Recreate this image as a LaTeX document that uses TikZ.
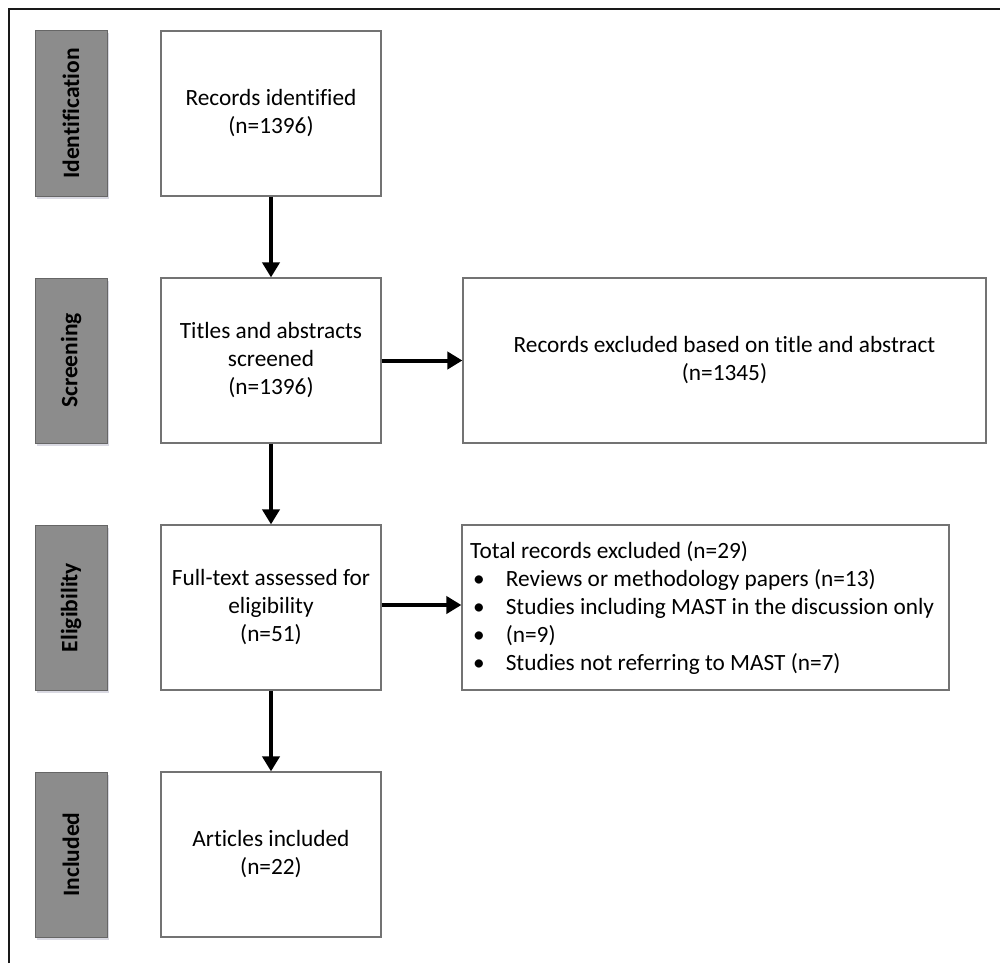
\documentclass[tikz,border=0pt]{standalone}
\usepackage{fontspec}
\setmainfont{Carlito}[Ligatures=NoCommon]
\usetikzlibrary{arrows.meta}
\begin{document}
\begin{tikzpicture}[x=1pt,y=-1pt,
  side/.style={draw=black!60,fill=black!45,line width=1pt,minimum width=72pt,minimum height=165pt,inner sep=0pt,
    font=\fontsize{23.5}{27}\selectfont\bfseries},
  stage/.style={draw=black!55,line width=1.2pt,minimum width=220pt,minimum height=165pt,inner sep=0pt,align=center,
    font=\fontsize{23.3}{28}\selectfont},
  flow/.style={line width=4pt,-{Triangle[width=17pt,length=15pt]}}]
\useasboundingbox (0,0) rectangle (1000,963);
\fill[white] (0,0) rectangle (1000,963);
\draw[line width=2.5pt,black!90] (9,963) -- (9,9) -- (1000,9);
% sidebars
\foreach \n/\t/\y in {sa/Identification/113.5, sb/Screening/360.5, sc/Eligibility/607.5, sd/Included/854.5}{
  \fill[blue!25!black!15] (37,\y-80) rectangle (109,\y+85);
  \node[side] (\n) at (71,\y) {\rotatebox{90}{\t}};
}
% main boxes
\node[stage] (b1) at (271,113.5) {Records identified\\(n=1396)};
\node[stage] (b2) at (271,360.5) {Titles and abstracts\\screened\\(n=1396)};
\node[stage] (b3) at (271,607.5) {Full-text assessed for\\eligibility\\(n=51)};
\node[stage] (b4) at (271,854.5) {Articles included\\(n=22)};
% right boxes
\node[stage,minimum width=523pt] (r1) at (724.5,360.5) {Records excluded based on title and abstract\\(n=1345)};
\node[stage,minimum width=487pt] (r2) at (705.5,607.5) {};
\node[anchor=west,align=left,inner sep=0pt,font=\fontsize{23.3}{28}\selectfont] (r2t) at (470,607.5)
  {Total records excluded (n=29)\\
   \hspace*{3pt}\textbullet\hspace{21pt}Reviews or methodology papers (n=13)\\
   \hspace*{3pt}\textbullet\hspace{21pt}Studies including MAST in the discussion only\\
   \hspace*{3pt}\textbullet\hspace{21pt}(n=9)\\
   \hspace*{3pt}\textbullet\hspace{21pt}Studies not referring to MAST (n=7)};
% arrows
\draw[flow] (b1) -- (b2);
\draw[flow] (b2) -- (b3);
\draw[flow] (b3) -- (b4);
\draw[flow] (b2) -- (r1);
\draw[flow] (b3.east |- 0,605) -- (r2.west |- 0,605);
\end{tikzpicture}
\end{document}
